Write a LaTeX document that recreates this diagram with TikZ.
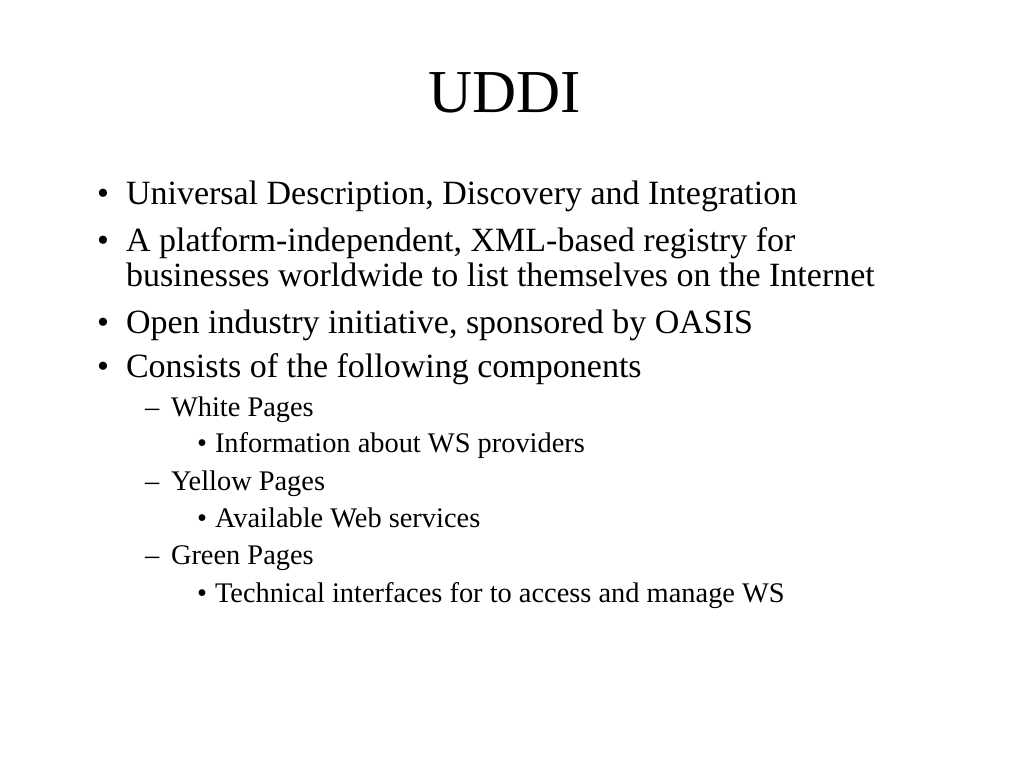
\documentclass[tikz,border=0pt]{standalone}
\usepackage{fontspec}
\setmainfont{Liberation Serif}
\begin{document}
\begin{tikzpicture}[x=1pt,y=-1pt,
  every node/.style={inner sep=0pt,outer sep=0pt,anchor=base west},
  ttl/.style={anchor=base,font=\fontsize{61}{61}\selectfont},
  lone/.style={font=\fontsize{34}{34}\selectfont},
  ltwo/.style={font=\fontsize{28.4}{28.4}\selectfont},
  lthree/.style={font=\fontsize{28.4}{28.4}\selectfont}]
\useasboundingbox[fill=white] (0,0) rectangle (1024,768);
\node[ttl] (title) at (505,112) {UDDI};
% level 1
\node[lone] (b1) at (97,204) {•};
\node[lone] (t1) at (126,204) {Universal Description, Discovery and Integration};
\node[lone] (b2) at (97,251) {•};
\node[lone] (t2) at (126,251) {A platform-independent, XML-based registry for};
\node[lone] (t2b) at (126,286) {businesses worldwide to list themselves on the Internet};
\node[lone] (b3) at (97,333) {•};
\node[lone] (t3) at (126,333) {Open industry initiative, sponsored by OASIS};
\node[lone] (b4) at (97,377) {•};
\node[lone] (t4) at (126,377) {Consists of the following components};
% level 2/3
\node[ltwo] (d1) at (145,416) {–};
\node[ltwo] (w1) at (171,416) {White Pages};
\node[lthree] (s1) at (197,452) {•};
\node[lthree] (x1) at (215,452) {Information about WS providers};
\node[ltwo] (d2) at (145,490) {–};
\node[ltwo] (w2) at (171,490) {Yellow Pages};
\node[lthree] (s2) at (197,527) {•};
\node[lthree] (x2) at (215,527) {Available Web services};
\node[ltwo] (d3) at (145,564) {–};
\node[ltwo] (w3) at (171,564) {Green Pages};
\node[lthree] (s3) at (197,602) {•};
\node[lthree] (x3) at (215,602) {Technical interfaces for to access and manage WS};
\end{tikzpicture}
\end{document}
